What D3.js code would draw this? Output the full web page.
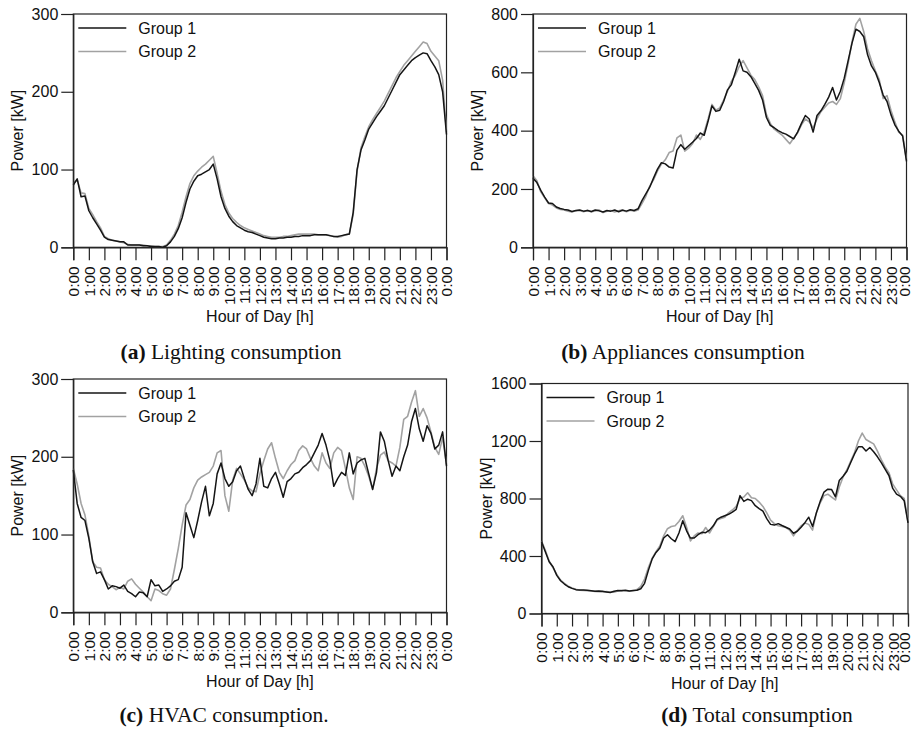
<!DOCTYPE html>
<html>
<head>
<meta charset="utf-8">
<script src="https://cdn.jsdelivr.net/npm/d3@7"></script>
<style>
  html, body { margin: 0; padding: 0; background: #fff; }
  svg { display: block; }
</style>
</head>
<body>
<svg id="chart" width="914" height="729"></svg>
<script>
// Hour labels for the 25 ticks along each x axis (midnight to midnight)
const hourLabels = ["0:00","1:00","2:00","3:00","4:00","5:00","6:00","7:00","8:00","9:00","10:00","11:00",
  "12:00","13:00","14:00","15:00","16:00","17:00","18:00","19:00","20:00","21:00","22:00","23:00","0:00"];

// Sampling step of every series, in minutes (97 samples from 0:00 to 24:00)
const stepMinutes = 15;

const seriesNames = ["Group 1", "Group 2"];

// Lighting power [kW]
const lightingG1 = [80,88,65,66,47,38,30,22,13,10,9,8,7,7,3,3,3,3,2,2,1,1,1,0,
  2,7,14,24,38,58,75,85,92,94,97,100,107,88,65,50,40,33,28,25,22,20,19,17,
  15,13,12,11,11,12,12,13,13,14,14,15,15,15,16,16,16,16,15,14,14,15,16,17,
  45,100,125,138,152,160,168,175,182,192,202,212,222,228,234,240,244,247,250,249,240,232,222,200,145];
const lightingG2 = [82,87,70,69,50,42,33,25,14,11,9,8,7,6,4,3,3,3,3,2,2,1,1,1,
  3,9,17,28,45,65,82,92,98,103,107,112,117,95,72,55,44,37,32,28,25,23,21,19,
  17,15,14,13,13,13,14,14,15,16,17,17,17,17,17,16,16,16,15,14,13,14,16,17,
  42,98,128,142,155,164,172,180,188,198,208,218,226,234,240,246,252,258,264,262,252,246,240,215,148];

// Appliances power [kW]
const appliancesG1 = [237,222,195,172,152,150,138,133,130,128,123,126,128,124,126,123,128,125,121,126,124,128,122,127,
  124,129,126,132,160,183,206,238,268,290,286,275,272,333,352,336,348,360,373,392,384,432,485,466,
  470,500,540,558,600,645,605,600,585,562,538,505,445,418,410,400,393,388,380,372,395,425,452,440,
  395,452,468,490,515,548,505,535,580,640,700,748,740,722,660,622,600,565,522,500,455,420,398,382,295];
const appliancesG2 = [245,228,190,170,150,145,135,130,128,124,121,125,126,122,127,121,125,128,119,124,126,121,125,129,
  122,127,124,128,150,175,210,232,262,285,300,325,330,375,385,330,340,355,385,370,395,440,490,470,
  478,505,535,570,590,620,640,615,590,575,550,520,455,425,405,395,385,370,355,375,392,420,440,430,
  410,440,465,480,495,500,490,510,565,630,705,765,785,740,680,640,605,575,510,520,470,430,395,385,300];

// HVAC power [kW]
const hvacG1 = [183,140,122,118,95,65,50,52,42,30,34,33,31,35,27,24,20,26,25,20,42,34,35,27,
  30,34,40,42,58,128,112,96,118,142,162,124,140,178,192,172,162,168,182,188,172,158,150,165,
  198,162,160,172,180,165,148,168,172,178,180,186,190,195,205,215,230,215,195,162,172,180,176,205,
  178,192,196,198,178,158,180,232,220,195,175,188,182,200,215,245,262,236,220,240,230,210,215,232,188];
const hvacG2 = [185,165,140,125,98,65,58,57,42,36,33,29,32,30,40,43,36,31,26,20,15,30,28,24,
  22,30,55,82,112,138,145,160,170,174,177,180,188,205,208,150,130,170,185,178,170,160,156,155,
  178,195,210,218,198,180,172,182,190,195,208,214,210,198,188,182,205,192,185,205,212,208,185,160,
  145,200,198,188,175,158,185,202,206,195,192,188,212,248,252,270,285,252,262,250,232,212,203,225,190];

// Total power [kW]
const totalG1 = [499,430,360,325,265,228,205,186,175,166,163,163,161,158,155,157,154,150,146,155,160,158,162,157,
  160,162,172,210,300,380,425,455,525,548,520,500,560,645,575,525,525,548,565,562,580,610,655,670,
  680,690,705,725,820,780,795,785,750,730,712,660,620,615,625,612,600,588,558,572,600,632,670,605,
  700,780,845,865,862,812,925,955,990,1050,1110,1160,1160,1130,1155,1125,1090,1050,1005,960,870,830,815,785,630];
const totalG2 = [505,440,365,320,272,232,210,190,178,168,162,160,158,156,154,152,150,152,150,148,156,162,158,155,
  158,166,188,240,320,385,430,470,540,590,605,610,640,680,600,505,540,560,555,598,560,605,650,660,
  670,700,720,745,800,810,840,805,800,775,745,700,650,625,610,605,598,580,540,578,610,630,620,580,
  700,770,820,830,810,790,880,950,1000,1060,1120,1200,1255,1210,1195,1180,1130,1070,1020,980,900,860,820,800,640];

// Axis tick values
const lightingTicks = [0, 100, 200, 300];
const appliancesTicks = [0, 200, 400, 600, 800];
const hvacTicks = [0, 100, 200, 300];
const totalTicks = [0, 400, 800, 1200, 1600];

// Captions: bold tag + description
const captionTags = ["(a)", "(b)", "(c)", "(d)"];
const captionTexts = [" Lighting consumption", " Appliances consumption", " HVAC consumption.", " Total consumption"];

// Panel layout (plot-area boxes, caption centre and baseline)
const layout = [
  { left: 73.3,  right: 446.5, top: 14,    bottom: 247.3, capX: 231, capY: 359 },
  { left: 533,   right: 906.5, top: 14,    bottom: 247.3, capX: 683, capY: 359 },
  { left: 73.3,  right: 446.5, top: 379,   bottom: 612.3, capX: 224, capY: 722 },
  { left: 541.5, right: 908,   top: 383.5, bottom: 613.5, capX: 757, capY: 722 }
];

const panels = [
  { g1: lightingG1,   g2: lightingG2,   ticks: lightingTicks },
  { g1: appliancesG1, g2: appliancesG2, ticks: appliancesTicks },
  { g1: hvacG1,       g2: hvacG2,       ticks: hvacTicks },
  { g1: totalG1,      g2: totalG2,      ticks: totalTicks }
];

const colors = { g1: "#151515", g2: "#a2a2a2" };
const sansFont = "'Liberation Sans', Arial, Helvetica, sans-serif";
const serifFont = "'Liberation Serif', 'Times New Roman', serif";
const pageWidth = 914;

const svg = d3.select("#chart");

panels.forEach((p, i) => {
  const L = layout[i];
  const w = L.right - L.left;
  const h = L.bottom - L.top;

  const x = d3.scaleLinear().domain([0, 1440]).range([0, w]);
  const y = d3.scaleLinear().domain([0, d3.max(p.ticks)]).range([h, 0]);

  const g = svg.append("g").attr("transform", `translate(${L.left},${L.top})`);

  // plot frame (top and right sides)
  g.append("rect")
    .attr("x", 0).attr("y", 0).attr("width", w).attr("height", h)
    .attr("fill", "none").attr("stroke", "#222").attr("stroke-width", 1.2);

  const line = d3.line()
    .x((d, k) => x(k * stepMinutes))
    .y(d => y(d));

  g.append("path").datum(p.g2)
    .attr("d", line).attr("fill", "none")
    .attr("stroke", colors.g2).attr("stroke-width", 1.6).attr("stroke-linejoin", "round");
  g.append("path").datum(p.g1)
    .attr("d", line).attr("fill", "none")
    .attr("stroke", colors.g1).attr("stroke-width", 1.5).attr("stroke-linejoin", "round");

  // y axis
  const yAxis = g.append("g")
    .call(d3.axisLeft(y).tickValues(p.ticks).tickSize(12).tickPadding(3).tickFormat(d3.format("d")));
  yAxis.selectAll("text").style("font-family", sansFont).style("font-size", "16px").attr("fill", "#111");
  yAxis.selectAll("line, path").attr("stroke", "#222").attr("stroke-width", 1.2);

  // x axis with vertical hour labels
  const xAxis = g.append("g").attr("transform", `translate(0,${h})`)
    .call(d3.axisBottom(x).tickValues(d3.range(0, 1441, 60)).tickSize(13)
      .tickFormat((d, k) => hourLabels[k]));
  xAxis.selectAll("line, path").attr("stroke", "#222").attr("stroke-width", 1.2);
  xAxis.selectAll("text")
    .attr("transform", "rotate(-90)")
    .attr("x", -19)
    // keep the rightmost label inside the page edge
    .attr("y", d => Math.min(0, pageWidth - 10 - (L.left + x(d))))
    .attr("dy", "0.35em")
    .style("text-anchor", "end")
    .style("font-family", sansFont).style("font-size", "15.5px").attr("fill", "#111");

  // axis titles
  g.append("text")
    .attr("transform", `translate(-55.5,${h / 2}) rotate(-90)`)
    .attr("text-anchor", "middle").attr("dy", "0.35em")
    .style("font-family", sansFont).style("font-size", "16px").attr("fill", "#111")
    .text("Power [kW]");
  g.append("text")
    .attr("x", w / 2).attr("y", h + 75)
    .attr("text-anchor", "middle")
    .style("font-family", sansFont).style("font-size", "16px").attr("fill", "#111")
    .text("Hour of Day [h]");

  // legend
  seriesNames.forEach((name, k) => {
    const ly = 14 + k * 23.5;
    g.append("line")
      .attr("x1", 5).attr("x2", 53).attr("y1", ly).attr("y2", ly)
      .attr("stroke", k === 0 ? colors.g1 : colors.g2).attr("stroke-width", 1.6);
    g.append("text")
      .attr("x", 65).attr("y", ly).attr("dy", "0.35em")
      .style("font-family", sansFont).style("font-size", "16px").attr("fill", "#111")
      .text(name);
  });

  // caption
  const cap = svg.append("text")
    .attr("x", L.capX).attr("y", L.capY)
    .attr("text-anchor", "middle")
    .style("font-family", serifFont).style("font-size", "21.5px").attr("fill", "#111");
  cap.append("tspan").style("font-weight", "bold").text(captionTags[i]);
  cap.append("tspan").text(captionTexts[i]);
});
</script>
</body>
</html>
